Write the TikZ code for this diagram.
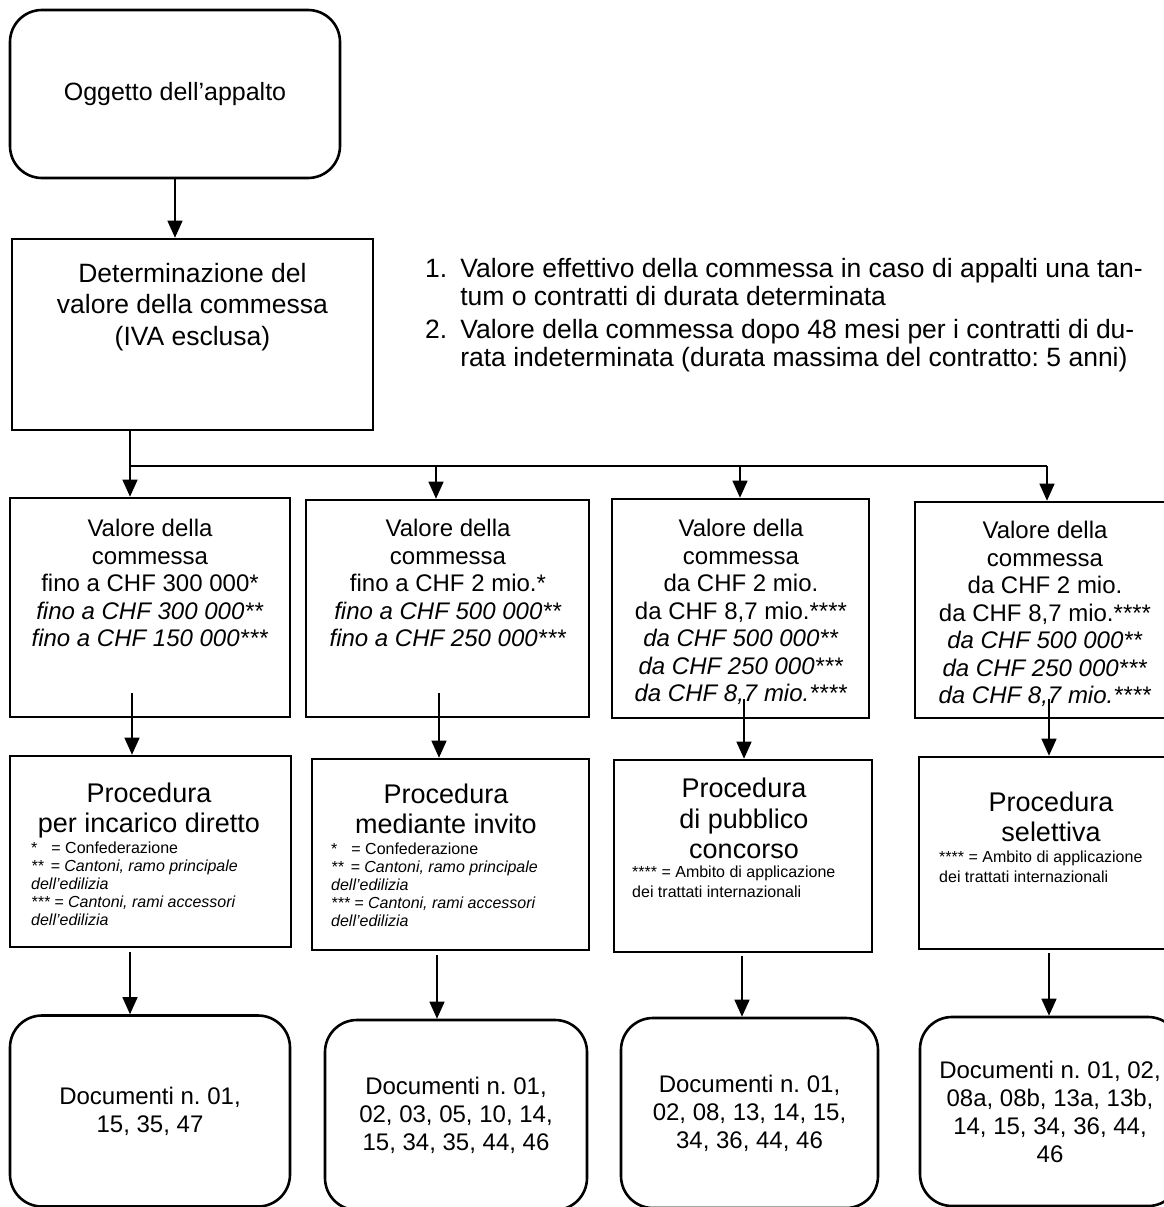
\documentclass[tikz,border=0pt]{standalone}
\usepackage{fontspec}
\setmainfont{Liberation Sans}
\usetikzlibrary{arrows.meta}
\frenchspacing

\tikzset{
  box/.style={draw, line width=2.6pt, inner sep=0pt},
  softbox/.style={box, rounded corners=32pt},
  link/.style={line width=1.3pt, -{Triangle[width=15pt,length=17pt]}},
  plain/.style={line width=1.3pt},
  big/.style={inner sep=0pt, anchor=north, align=center, font=\fontsize{24pt}{27.5pt}\selectfont},
  heading/.style={inner sep=0pt, anchor=north, align=center, font=\fontsize{27pt}{29.5pt}\selectfont},
  note/.style={inner sep=0pt, anchor=north west, align=left, font=\fontsize{16pt}{18pt}\selectfont},
  docs/.style={softbox, align=center, font=\fontsize{24pt}{28pt}\selectfont},
}

\begin{document}
\begin{tikzpicture}[x=1pt, y=-1pt]
  \useasboundingbox[fill=white] (0,0) rectangle (1164,1207);

  % object and value
  \node[softbox, minimum width=330pt, minimum height=168pt, font=\fontsize{25pt}{29pt}\selectfont] (obj) at (175,94) {Oggetto dell’appalto};
  \node[box, minimum width=361pt, minimum height=191pt] (det) at (192.5,334.5) {};
  \node[inner sep=0pt, anchor=north, align=center, font=\fontsize{26.5pt}{31.5pt}\selectfont] (dettxt) at (192.5,263) {Determinazione del\\valore della commessa\\(IVA esclusa)};

  % how the value is computed
  \node[anchor=north west, inner sep=0pt, font=\fontsize{26.5pt}{28.5pt}\selectfont] (rules) at (425,257) {%
    \begin{tabular}{@{}l@{\hspace{13pt}}l@{}}
      1. & Valore effettivo della commessa in caso di appalti una tan-\\
         & tum o contratti di durata determinata\\[4pt]
      2. & Valore della commessa dopo 48 mesi per i contratti di du-\\
         & rata indeterminata (durata massima del contratto: 5 anni)
    \end{tabular}};

  % thresholds
  \node[box, minimum width=280pt, minimum height=219pt] (b1) at (150,607.5) {};
  \node[box, minimum width=283pt, minimum height=217pt] (b2) at (447.5,608.5) {};
  \node[box, minimum width=257pt, minimum height=219pt] (b3) at (740.5,608.5) {};
  \node[box, minimum width=265pt, minimum height=216pt] (b4) at (1047.5,610) {};

  \node[big] (b1txt) at (150,519) {Valore della\\commessa\\fino a CHF 300 000*\\\textit{fino a CHF 300 000**}\\\textit{fino a CHF 150 000***}};
  \node[big] (b2txt) at (448,519) {Valore della\\commessa\\fino a CHF 2 mio.*\\\textit{fino a CHF 500 000**}\\\textit{fino a CHF 250 000***}};
  \node[big] (b3txt) at (741,519) {Valore della\\commessa\\da CHF 2 mio.\\da CHF 8,7 mio.****\\\textit{da CHF 500 000**}\\\textit{da CHF 250 000***}\\\textit{da CHF 8,7 mio.****}};
  \node[big] (b4txt) at (1045,521) {Valore della\\commessa\\da CHF 2 mio.\\da CHF 8,7 mio.****\\\textit{da CHF 500 000**}\\\textit{da CHF 250 000***}\\\textit{da CHF 8,7 mio.****}};

  % procedures
  \node[box, minimum width=281pt, minimum height=191pt] (p1) at (150.5,851.5) {};
  \node[box, minimum width=277pt, minimum height=191pt] (p2) at (450.5,854.5) {};
  \node[box, minimum width=258pt, minimum height=192pt] (p3) at (743,856) {};
  \node[box, minimum width=261pt, minimum height=192pt] (p4) at (1049.5,853) {};

  \node[heading] (p1txt) at (149,783) {Procedura\\per incarico diretto};
  \node[note] (p1note) at (31,842) {*\hspace{14pt}= Confederazione\\\textit{**\hspace{7pt}= Cantoni, ramo principale}\\\textit{dell’edilizia}\\\textit{*** = Cantoni, rami accessori}\\\textit{dell’edilizia}};
  \node[heading] (p2txt) at (446,784) {Procedura\\mediante invito};
  \node[note] (p2note) at (331,843) {*\hspace{14pt}= Confederazione\\\textit{**\hspace{7pt}= Cantoni, ramo principale}\\\textit{dell’edilizia}\\\textit{*** = Cantoni, rami accessori}\\\textit{dell’edilizia}};
  \node[heading, font=\fontsize{27pt}{30.5pt}\selectfont] (p3txt) at (744,778) {Procedura\\di pubblico\\concorso};
  \node[note, font=\fontsize{16pt}{20pt}\selectfont] (p3note) at (632,866) {**** = Ambito di applicazione\\dei trattati internazionali};
  \node[heading] (p4txt) at (1051,792) {Procedura\\selettiva};
  \node[note, font=\fontsize{16pt}{20pt}\selectfont] (p4note) at (939,851) {**** = Ambito di applicazione\\dei trattati internazionali};

  % documents
  \node[docs, minimum width=280pt, minimum height=191pt] (d1) at (150,1111) {Documenti n. 01,\\15, 35, 47};
  \node[docs, minimum width=262pt, minimum height=190pt] (d2) at (456,1115) {Documenti n. 01,\\02, 03, 05, 10, 14,\\15, 34, 35, 44, 46};
  \node[docs, minimum width=257pt, minimum height=190pt] (d3) at (749.5,1113) {Documenti n. 01,\\02, 08, 13, 14, 15,\\34, 36, 44, 46};
  \node[docs, minimum width=260pt, minimum height=189pt] (d4) at (1050,1111.5) {Documenti n. 01, 02,\\08a, 08b, 13a, 13b,\\14, 15, 34, 36, 44,\\46};

  % connectors
  \draw[link] (obj.south) -- (obj.south |- det.north);

  \coordinate (split) at (130,466);
  \coordinate (drop2) at (436,466);
  \coordinate (drop3) at (740,466);
  \coordinate (drop4) at (1047,466);
  \draw[plain] (split |- det.south) -- (split) -- (drop4);
  \draw[link] (split) -- (split |- b1.north);
  \draw[link] (drop2) -- (drop2 |- b2.north);
  \draw[link] (drop3) -- (drop3 |- b3.north);
  \draw[link] (drop4) -- (drop4 |- b4.north);

  \coordinate (s1) at (132,693);
  \coordinate (s2) at (439,693);
  \coordinate (s3) at (744,699);
  \coordinate (s4) at (1049,699);
  \draw[link] (s1) -- (s1 |- p1.north);
  \draw[link] (s2) -- (s2 |- p2.north);
  \draw[link] (s3) -- (s3 |- p3.north);
  \draw[link] (s4) -- (s4 |- p4.north);

  \coordinate (t1) at (130,952);
  \coordinate (t2) at (437,955);
  \coordinate (t3) at (742,956);
  \coordinate (t4) at (1049,953);
  \draw[link] (t1) -- (t1 |- d1.north);
  \draw[link] (t2) -- (t2 |- d2.north);
  \draw[link] (t3) -- (t3 |- d3.north);
  \draw[link] (t4) -- (t4 |- d4.north);

\end{tikzpicture}
\end{document}
